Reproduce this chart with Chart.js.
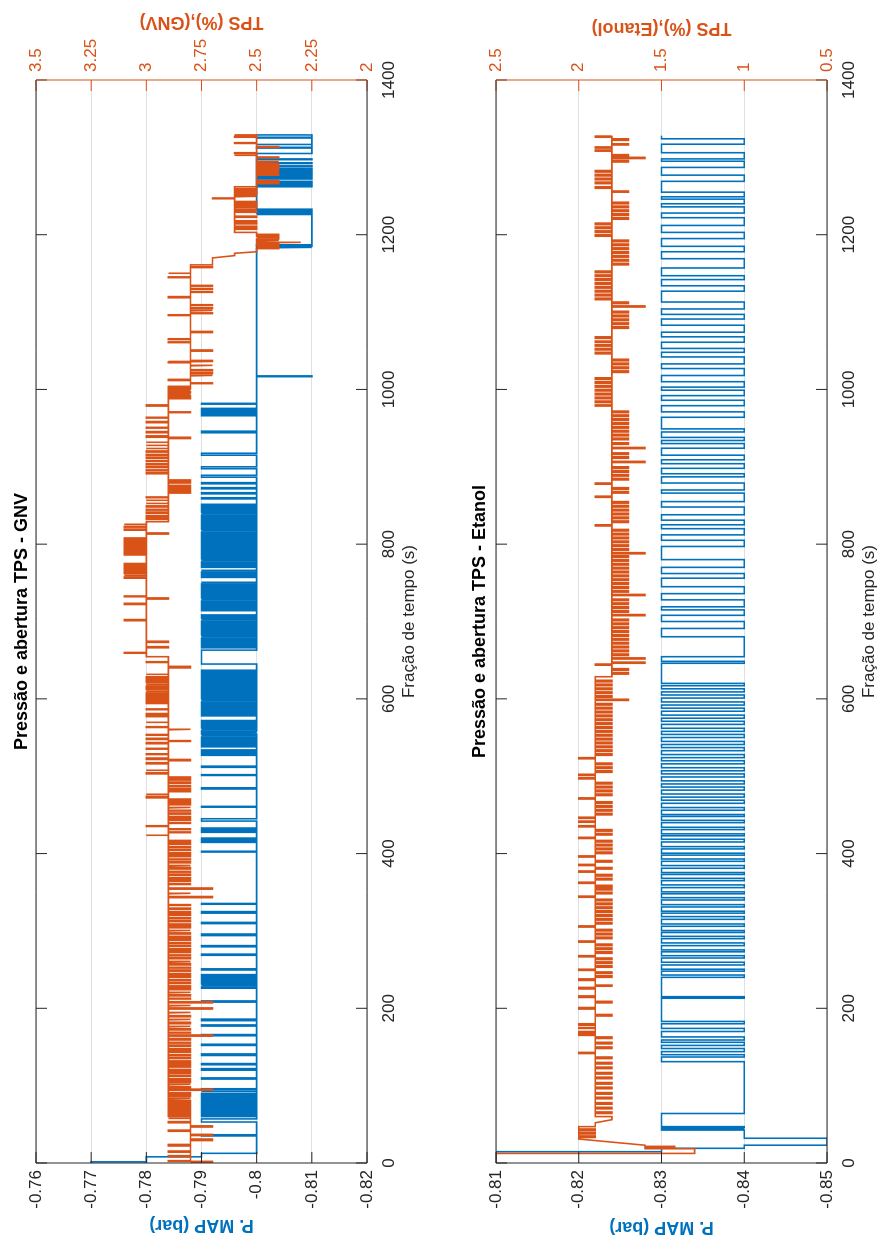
<!DOCTYPE html>
<html>
<head>
<meta charset="utf-8">
<title>Pressão e abertura TPS</title>
<script src="https://cdn.jsdelivr.net/npm/chart.js@4.4.1/dist/chart.umd.min.js"></script>
<style>
  html, body { margin: 0; padding: 0; background: #fff; overflow: hidden; }
  /* The figure is laid out landscape (1239 x 884) and turned a quarter turn anticlockwise */
  #fig {
    position: absolute; left: 0; top: 0;
    width: 1239px; height: 884px;
    transform-origin: 0 0;
    transform: translate(0, 1239px) rotate(-90deg);
    background: #fff;
  }
  #fig canvas { display: block; }
</style>
</head>
<body>
<div id="fig">
  <canvas id="cGnv" width="1239" height="442"></canvas>
  <canvas id="cEta" width="1239" height="442"></canvas>
</div>
<script>
// ---------- tick values ----------
const timeTicks   = [0, 200, 400, 600, 800, 1000, 1200, 1400];
const gnvMapTicks = [-0.82, -0.81, -0.80, -0.79, -0.78, -0.77, -0.76];
const gnvTpsTicks = [2, 2.25, 2.5, 2.75, 3, 3.25, 3.5];
const etaMapTicks = [-0.85, -0.84, -0.83, -0.82, -0.81];
const etaTpsTicks = [0.5, 1, 1.5, 2, 2.5];

// ---------- GNV: P. MAP (bar) ----------
// level changes [t (s), value]
const gnvMapSteps = [[0,-0.77],[1.5,-0.78],[8,-0.79],[12.5,-0.80],
  [1183,-0.81],[1184,-0.80],[1185,-0.81],[1186,-0.80],[1187,-0.81],[1225.5,-0.80],[1226.5,-0.81],[1228,-0.80],
  [1229,-0.81],[1230.5,-0.80],[1231.5,-0.81],[1233,-0.80],
  [1262,-0.81],[1263,-0.80],[1265,-0.81],[1266,-0.80],[1268,-0.81],[1269,-0.80],[1272,-0.81],[1273,-0.80],
  [1274.5,-0.81],[1275.5,-0.80],[1277,-0.81],[1278,-0.80],[1279.5,-0.81],[1280.5,-0.80],[1282,-0.81],[1283,-0.80],
  [1284.5,-0.81],[1285.5,-0.80],[1288,-0.81],[1289,-0.80],[1292,-0.81],[1293,-0.80],[1297,-0.81],[1298,-0.80],
  [1305,-0.81],[1312,-0.80],[1313,-0.81],[1316,-0.80],[1317,-0.81],[1325,-0.80],[1326,-0.81],[1329,-0.80]];
// short rises to -0.79 bar [start, end]
const gnvMapRise = [[35,36.5],[53,57],[60,61.5],[63,64],[65.5,67],[68,69],[71,72.5],[74,75],[77,78.5],[80,81],
  [83,84.5],[86,87],[89,90],[92,93],[95,96],[108.5,110],[120,122],[127,128.5],[139,141],[152,153.5],[164.5,166],
  [177,178.5],[184,186],[208,209.5],[226,227.5],[229,230],[231.5,233],[234.5,236],[237.5,238.5],[240,241],
  [242.5,243.5],[249.5,251],[268.5,270],[279.5,281],[294,296],[309.5,311],[323,325],[334.5,335.5],[402,403],
  [414.5,416],[418,420],[427.5,429],[431,433],[442,445],[460,461],[483.5,485],[501,502],[511.5,513],[527,528.5],
  [530,531],[532.5,534],
  [538,539.5],[541,542],[543.5,545],[546.5,547.5],[549,550.5],[552,553],[554.5,556],[557,558.5],[560,561],
  [562.5,564],[565.5,566.5],[568,569.5],[571,572],
  [578,579.5],[581,582],[583.5,585],[586.5,587.5],[589,590.5],[592,593],[594.5,596],[597.5,598.5],[600,601.5],
  [603,604],[605.5,607],[608.5,609.5],[611,612.5],[614,615],[616.5,618],[619.5,620.5],[622,623.5],[625,626],
  [627.5,629],[630.5,631.5],[633,634.5],[636,637],
  [645,663],
  [666,667.5],[669,670],[671.5,673],[674.5,675.5],[677,678.5],[680,681],[682.5,684],[685.5,686.5],[688,689.5],
  [691,692],[693.5,695],[696.5,697.5],[699,700.5],[702,703],[704.5,706],[707.5,708.5],
  [714,715.5],[717,718],[719.5,721],[722.5,723.5],[725,726.5],[728,729],[730.5,732],[733.5,734.5],[736,737.5],
  [739,740],[741.5,743],[744.5,745.5],[747,748.5],[750,751],
  [757,758.5],[760,761],[762.5,764],[765.5,766.5],
  [770,771.5],[773,774],[775.5,777],[778.5,779.5],[781,782.5],[784,785],[786.5,788],[789.5,790.5],[792,793.5],
  [795,796],[797.5,799],[800.5,801.5],[803,804.5],[806,807],[808.5,810],[811.5,812.5],[814,815.5],[817,818],
  [819.5,821],[822.5,823.5],[825,826.5],[828,829],[830.5,832],[833.5,834.5],[836,837.5],[839,840],[841.5,843],
  [844.5,845.5],[847,848.5],[850,851.5],
  [858.5,860],[865,866.5],[871.5,873],[878,879.5],[886.5,889],[897.5,900],[915,917.5],[944,946],[966,967.5],
  [969,970],[971.5,973],[974,975.5],[981,982]];
// short drops to -0.81 bar
const gnvMapDrop = [[1016.5,1017.5]];

// ---------- GNV: TPS (%) ----------
// level changes [t, value, ramp?]
const gnvTpsSteps = [[0,2.8],[57,2.9],[654.5,3.0],[829,2.9],[1004,2.8],[1161,2.7],[1170,2.7],[1173,2.6,1],
  [1176,2.6],[1178,2.5,1],[1203,2.6],[1262,2.5],[1329,2.6]];
// short excursions [start, end, value]
const gnvTpsPulses = [
  [1,2,2.7],[2.2,3,2.9],[8,9.5,2.9],[14,15.5,2.9],[22,24,2.9],[29,31,2.7],[35.5,37,2.7],[41,42.5,2.9],[46.5,48,2.7],[52,53.5,2.9],
  [58,60,2.8],[62,63.5,2.8],[65,67,2.8],[69,70,2.8],[72,74,2.8],[76,77,2.8],[79,81,2.8],[83,84,2.8],[86,88,2.8],[90,91,2.8],
  [94,95.5,2.7],[97,98.5,2.8],[101,102,2.8],[104,106,2.8],[108,109,2.8],[112,113.5,2.8],[116,117,2.8],[119,121,2.8],
  [124,125,2.8],[127,129,2.8],[131,132,2.8],[135,136.5,2.8],[139,140,2.8],[143,145,2.8],[147,148,2.8],[151,152.5,2.8],
  [155,156,2.8],[159,161,2.8],[164,165.5,2.7],[168,169,2.8],[172,173.5,2.8],[176,177,2.8],[180,182,2.8],[185,186,2.8],
  [189,190.5,2.8],[194,195,2.8],[199,200.5,2.7],[203,204,2.8],[207,208.5,2.7],[212,213,2.8],[216,217.5,2.8],[220,221,2.8],
  [224,226,2.8],[228,229,2.8],[232,233.5,2.8],[236,237,2.8],[240,242,2.8],[244,245,2.8],[248,249.5,2.8],[252,253,2.8],
  [256,258,2.8],[260,261,2.8],[264,265.5,2.8],[268,269,2.8],[272,274,2.8],[276,277,2.8],[280,281.5,2.8],[284,285,2.8],
  [288,290,2.8],[292,293,2.8],[296,297.5,2.8],[300,301,2.8],[304,306,2.8],[308,309,2.8],[312,313.5,2.8],[316,317,2.8],
  [320,322,2.8],[324,325,2.8],[328,329.5,2.8],[333,334,2.8],[343,344.5,2.7],[348,349,2.8],[354,355.5,2.7],[360,361,2.8],
  [364,366,2.8],[368,369,2.8],[372,373.5,2.8],[376,377,2.8],[380,382,2.8],[384,385,2.8],[388,389.5,2.8],[392,393,2.8],
  [396,398,2.8],[400,401,2.8],[404,405.5,2.8],[408,409,2.8],[412,414,2.8],[416,417,2.8],[423,424,3.0],[427,428,2.8],
  [431,432,2.8],[435,436,3.0],[439,440,2.8],[443,445,2.8],[447,448,2.8],[451,452.5,2.8],[455,456,2.8],[459,460,2.8],
  [463,464.5,2.8],[466,467,2.8],[469,470.5,2.8],[472,474,3.0],[476,477,3.0],[480,481,2.8],[483,484.5,2.8],[487,488,2.8],
  [491,492.5,2.8],[495,496,2.8],[498,499,2.8],[503,504.5,3.0],[507,508,3.0],[516,517.5,3.0],[520,521,2.8],[522,523.5,3.0],
  [528,529,3.0],[535,536,3.0],[542,543.5,3.0],[545,546,2.8],[547.5,549,3.0],[553,554,3.0],[560,561,2.8],[563,564,3.0],
  [569,570,3.0],[577,578.5,3.0],[580,581,3.0],[586,587,3.0],[594,595.5,3.0],[597,598,3.0],[600,601.5,3.0],[603,604,3.0],
  [606,607.5,3.0],[609,610,3.0],[612,613,3.0],[615,616.5,3.0],[618,619,3.0],[621,622.5,3.0],[624,625,3.0],[627,628.5,3.0],
  [631,632,3.0],[640,642,2.8],[647,648,3.0],
  [659,660,3.1],[666,667.5,2.9],[673,674.5,2.9],[701,702.5,3.1],[722,723.5,3.1],[729,730.5,2.9],[732,733,3.1],
  [756,757.5,3.1],[759,760,3.1],[762,763.5,3.1],[765,766,3.1],[768,769.5,3.1],[771,772,3.1],[774,775,3.1],
  [786,787.5,3.1],[789,790,3.1],[792,793.5,3.1],[795,796,3.1],[798,799.5,3.1],[801,802,3.1],[804,805.5,3.1],
  [807,808,3.1],[813,814.5,2.9],[818,819.5,3.1],[822,823,3.1],[825,826,3.1],
  [832,834,3.0],[836,837,3.0],[840,841.5,3.0],[844,845,3.0],[848,849.5,3.0],[852,853,3.0],[856,857,3.0],[860,861,3.0],
  [866,867.5,2.8],[869,870,2.8],[872,873.5,2.8],[875,876,2.8],[879,880,2.8],[882,883,2.8],[891,892.5,3.0],[895,896,3.0],
  [899,900.5,3.0],[903,904,3.0],[907,908,3.0],[911,912.5,3.0],[915,916,3.0],[919,920.5,3.0],[923,924,3.0],[927,928,3.0],
  [931,932,3.0],[936.5,937.5,2.8],[938.5,940,3.0],[944,945.5,3.0],[950,951,3.0],[957,958.5,3.0],[963,964,3.0],
  [970,971,2.8],[978.5,980,3.0],[988,989,2.8],[990.5,992,2.8],[993,994,2.8],[995.5,997,2.8],[998,999,2.8],[1000.5,1002,2.8],
  [1007.5,1008.5,2.7],[1011.5,1013,2.9],[1017.5,1018.5,2.7],[1020.5,1021.5,2.7],[1024,1025.5,2.7],[1030.5,1031.5,2.7],
  [1034.5,1035.5,2.9],[1036.5,1037.5,2.7],[1049.5,1051,2.7],[1060.5,1061.5,2.9],[1064.5,1065.5,2.9],[1073.5,1075,2.7],
  [1095.5,1096.5,2.9],[1098,1099,2.7],[1101.5,1102.5,2.7],[1104.5,1105.5,2.7],[1108.5,1109.5,2.7],[1118.5,1120,2.9],
  [1125.5,1126.5,2.7],[1129.5,1130.5,2.7],[1133.5,1134.5,2.7],[1144.5,1145.5,2.9],[1149.5,1150.5,2.9],[1157.5,1158.5,2.7],
  [1182,1183,2.4],[1184,1185.5,2.4],[1187,1188,2.4],[1189.5,1190.5,2.3],[1192,1193,2.4],[1194.5,1196,2.4],[1197,1198,2.4],
  [1199.5,1200.5,2.4],
  [1207,1208,2.5],[1209.5,1211,2.5],[1214,1215.5,2.5],[1217,1218,2.5],[1222.5,1224,2.5],[1229,1230.5,2.5],[1232,1233,2.5],
  [1235,1236.5,2.5],[1238,1239,2.5],[1241,1243,2.5],[1246.5,1247.5,2.7],[1249,1250,2.5],[1251.5,1253,2.5],[1255,1256,2.5],
  [1258,1259.5,2.5],
  [1266,1267,2.4],[1269,1270,2.4],[1277,1278.5,2.4],[1280,1281,2.4],[1282.5,1284,2.4],[1285.5,1286.5,2.4],[1288,1289.5,2.4],
  [1291,1292,2.4],[1294,1295,2.4],[1299.5,1300.5,2.4],[1302,1303,2.6],[1305,1306,2.6],[1313,1314,2.4],[1318,1319,2.6],
  [1326,1327,2.6]];

// ---------- Etanol: P. MAP (bar) ----------
const etaMapSteps = [[0,-0.81],[14.6,-0.83],[19,-0.84],[23,-0.85],[32,-0.84],[42.6,-0.83],[44,-0.84],[45,-0.83],
  [46,-0.84],[47,-0.83],[64,-0.84],[131,-0.83],[1328,-0.83]];
// drops to -0.84 bar [start, end]
const etaMapDrop = [[137,140],[144,148],[152,156],[159,163],[170,174],[180,183],[213,215],
  [240,243],[248,250.5],[256,259.5],[265,268],[273,275.5],[281,284.5],[290,293],[298,300.5],[306,309],[315,318.5],
  [323,325.5],[331,334],[340,343],[348,350.5],[356,359.5],[365,368],[373,375.5],[381,384.5],[390,393],[398,400.5],
  [406,409],[415,418.5],[423,425.5],[431,434],[440,443],[448,450.5],[456,459.5],
  [465,469],[473,477],[482,486],[490,494],[499,503],[507,511],[516,520],[524,528],[533,537],[541,545],[550,554],
  [558,562],[567,571],[575,579],[584,588],[592,596],[601,605],[609,613],[617,620],
  [646,648.5],[654.5,680.3],[691,700],[708,715],[719,728],[736,745],[756,762],[770,780],[797,805],[812,820],[825,831],
  [838,848],[855,866],[870,879],[887,891],[898,904],[909,915],[924,930],
  [934,938],[945,949],[964,971],[979,986],[992,999],[1003,1010],[1018,1027],[1033,1042],[1048,1053],[1061,1068],
  [1074,1083],[1091,1097],[1104,1113],[1127,1134],[1142,1147],[1157,1169],[1178,1185],[1195,1203],[1212,1222],
  [1228,1236],[1240,1246],[1249,1255],[1269,1277],[1287,1295],[1298,1306],[1317,1324]];

// ---------- Etanol: TPS (%) ----------
const etaTpsSteps = [[0,2.5],[12.4,1.3],[18.5,1.6],[20,1.42],[21.5,1.6],[23,1.6],[31,2.0,1],[33,1.9],[35,2.0],
  [37.5,1.9],[39.5,2.0],[42,1.9],[44,2.0],[47,1.9],[52,1.9],[56,1.8,1],[60,1.9],[628.6,1.8],[1328,1.8]];
const etaTpsPulses = [
  [64,66,1.8],[70,72,1.8],[76,78,1.8],[83,85,1.8],[89,91,1.8],[96,98,1.8],[102,104,1.8],[109,111,1.8],[115,117,1.8],
  [122,124,1.8],[128,130,1.8],[135,137,1.8],[141.5,143,2.0],[148,150,1.8],[154,156,1.8],[161,163,1.8],[165,166.5,2.0],
  [168,170,2.0],[174,175,2.0],[178,180,2.0],[190,192,1.8],[199,201,2.0],[207,209,1.8],[214,216,2.0],[225,227,2.0],
  [228.5,230,1.8],[236,238,2.0],
  [240,242,1.8],[245,247,1.8],[249,250.5,2.0],[253,255,1.8],[258,260,1.8],[263,265,1.8],[266.5,268,2.0],[271,273,1.8],
  [276,278,1.8],[281,283,1.8],[285.5,287,2.0],[290,292,1.8],[295,297,1.8],[300,302,1.8],[305,306.5,2.0],[309,311,1.8],
  [314,316,1.8],[319,321,1.8],[324,326,1.8],[329,331,1.8],[334,336,1.8],[339,341,1.8],[343.5,345,2.0],[348,350,1.8],
  [353,355,1.8],[357,359,1.8],[361.5,363,2.0],[366,368,1.8],[371,373,1.8],[376,377.5,2.0],[380,382,1.8],[384.5,386,2.0],
  [389,391,1.8],[395.5,397,2.0],[400,402,1.8],[405,407,1.8],[410,412,1.8],[415,417,1.8],[419.5,421,2.0],[424,426,1.8],
  [429,431,1.8],[434.5,436,2.0],[440.5,442,2.0],[445.5,447,2.0],[450,452,1.8],[455,457,1.8],[460,462,1.8],
  [465,467,1.8],[470.5,472,2.0],[475,477,1.8],[480,482,1.8],[485,487,1.8],[490,492,1.8],[496.5,498,2.0],[501,502.5,2.0],
  [505,507,1.8],[510,512,1.8],[515,517,1.8],[522.5,524,2.0],[527,529,1.8],[532,534,1.8],[537,539,1.8],[542,544,1.8],
  [547,549,1.8],[552,554,1.8],[557,559,1.8],[562,564,1.8],[567,569,1.8],[572,574,1.8],[577,579,1.8],[582,584,1.8],
  [587,589,1.8],[592,594,1.8],[598,599.5,1.7],[602,604,1.8],[607,609,1.8],[612,614,1.8],[617,619,1.8],[622,624,1.8],
  [632,634,1.7],[637,639,1.7],[643.5,645,1.9],[646,647.5,1.6],[651.5,653,1.6],[656,658,1.7],[661,663,1.7],[666,668,1.7],
  [671,673,1.7],[676,678,1.7],[681,683,1.7],[686,688,1.7],[691,693,1.7],[696,698,1.7],[701,703,1.7],[707.5,709,1.6],
  [712,714,1.7],[717,719,1.7],[722,724,1.7],[727,729,1.7],[733.5,735,1.6],[738,740,1.7],[743,745,1.7],[748,750,1.7],
  [753,755,1.7],[758,760,1.7],[763,765,1.7],[768,770,1.7],[773,775,1.7],[778,780,1.7],[783,785,1.7],[787.5,789,1.6],
  [792,794,1.7],[797,799,1.7],[802,804,1.7],[807,809,1.7],[812,814,1.7],[817,819,1.7],[823.5,825,1.9],[828,830,1.7],
  [833,835,1.7],[838,840,1.7],[843,845,1.7],[848,850,1.7],[853,855,1.7],[860.5,862,1.9],[866,868,1.7],[871,873,1.7],
  [877.5,879,1.9],[883,885,1.7],[888,890,1.7],[893,895,1.7],[898,900,1.7],[905.5,907,1.6],[911,913,1.7],[916,918,1.7],
  [923.5,925,1.6],[929,931,1.7],
  [935,937,1.7],[940,942,1.7],[945,947,1.7],[950,952,1.7],[955,957,1.7],[960,962,1.7],[965,967,1.7],[970,972,1.7],
  [978.5,980,1.9],[983,985,1.9],[988,990,1.9],[993,995,1.9],[998,1000,1.9],[1003,1005,1.9],[1008,1010,1.9],[1013,1015,1.9],
  [1022,1024,1.7],[1027,1029,1.7],[1032,1034,1.7],[1037,1039,1.7],[1046,1048,1.9],[1051,1053,1.9],[1056,1058,1.9],
  [1061,1062.5,1.9],[1066,1068,1.9],[1079,1081,1.7],[1084,1086,1.7],[1089,1091,1.7],[1094,1096,1.7],[1099,1101,1.7],
  [1106.5,1108,1.6],[1111,1113,1.7],[1116,1118,1.9],[1121,1123,1.9],[1126,1128,1.9],[1131,1133,1.9],[1136,1138,1.9],
  [1141,1143,1.9],[1146,1148,1.9],[1151,1153,1.9],[1161,1163,1.7],[1166,1168,1.7],[1171,1173,1.7],[1176,1178,1.7],
  [1181,1183,1.7],[1186,1188,1.7],[1191,1193,1.7],[1198,1200,1.9],[1203,1205,1.9],[1208,1210,1.9],[1213,1215,1.9],
  [1220,1222,1.7],[1225,1227,1.7],[1230,1232,1.7],[1235,1237,1.7],[1240,1242,1.7],[1255,1256.5,1.7],[1260,1262,1.9],
  [1266,1268,1.9],[1271,1273,1.9],[1276,1278,1.9],[1281,1283,1.9],[1294,1296,1.7],[1298.5,1300,1.6],[1302,1303.5,1.7],
  [1308,1309.5,1.9],[1312,1313.5,1.9],[1316,1317.5,1.7],[1322,1324,1.7],[1326,1327.5,1.9]];

// ---------- styling ----------
const BLUE = '#0072BD';
const ORANGE = '#D95319';
const INK = '#262626';
const FONT = '"Liberation Sans", Arial, Helvetica, sans-serif';
Chart.defaults.font.family = FONT;

// value in force at time t
function levelAt(steps, t) {
  let v = steps[0][1];
  for (const s of steps) { if (s[0] <= t) v = s[1]; else break; }
  return v;
}

// turns level changes plus short excursions into a polyline (vertical jumps, optional ramps)
function trace(steps, pulses) {
  const ev = steps.map(s => ({ t: s[0], v: s[1], ramp: !!s[2] }));
  for (const [s, e, v] of pulses) {
    ev.push({ t: s, v: v, ramp: false });
    ev.push({ t: e, v: levelAt(steps, e), ramp: false });
  }
  ev.sort((a, b) => a.t - b.t);
  const pts = [];
  let prev = null;
  for (const e of ev) {
    if (prev !== null && !e.ramp) pts.push({ x: e.t, y: prev });
    pts.push({ x: e.t, y: e.v });
    prev = e.v;
  }
  return pts;
}

const withLevel = (list, v) => list.map(([s, e]) => [s, e, v]);

const fmt = v => String(Math.round(v * 100) / 100);

// box, inward tick marks and all axis/figure captions
const framePlugin = {
  id: 'frame',
  afterDatasetsDraw(chart, _args, o) {
    const { ctx, chartArea: a } = chart;
    const sx = chart.scales.x, sm = chart.scales.yMap, st = chart.scales.yTps;
    const L = 11;
    ctx.save();
    ctx.lineWidth = 1;
    const seg = (x1, y1, x2, y2, c) => {
      ctx.strokeStyle = c; ctx.beginPath(); ctx.moveTo(x1, y1); ctx.lineTo(x2, y2); ctx.stroke();
    };
    for (const t of timeTicks) {
      const x = sx.getPixelForValue(t);
      seg(x, a.bottom, x, a.bottom - L, INK);
      seg(x, a.top, x, a.top + L, INK);
    }
    for (const v of o.mapTicks) { const y = sm.getPixelForValue(v); seg(a.left, y, a.left + L, y, INK); }
    for (const v of o.tpsTicks) { const y = st.getPixelForValue(v); seg(a.right, y, a.right - L, y, ORANGE); }
    seg(a.left, a.top, a.right, a.top, INK);
    seg(a.left, a.bottom, a.right, a.bottom, INK);
    seg(a.left, a.top, a.left, a.bottom, INK);
    seg(a.right, a.top, a.right, a.bottom, ORANGE);

    const cx = (a.left + a.right) / 2, cy = (a.top + a.bottom) / 2;
    ctx.textAlign = 'center';
    ctx.textBaseline = 'middle';
    ctx.fillStyle = '#000';
    ctx.font = 'bold 18px ' + FONT;
    ctx.fillText(o.title, cx, o.titleY);
    ctx.fillStyle = INK;
    ctx.font = '17px ' + FONT;
    ctx.fillText(o.xTitle, cx, o.xTitleY);

    const vText = (txt, x, color) => {
      ctx.save();
      ctx.translate(x, cy);
      ctx.rotate(-Math.PI / 2);
      ctx.fillStyle = color;
      ctx.font = 'bold 18px ' + FONT;
      ctx.fillText(txt, 0, 0);
      ctx.restore();
    };
    vText(o.mapTitle, o.mapTitleX, BLUE);
    vText(o.tpsTitle, o.tpsTitleX, ORANGE);
    ctx.restore();
  }
};

function panel(id, p) {
  const line = (data, color, axis) => ({
    data, yAxisID: axis, borderColor: color, borderWidth: 1.6,
    pointRadius: 0, tension: 0, fill: false, borderJoinStyle: 'miter'
  });
  return new Chart(document.getElementById(id), {
    type: 'line',
    data: { datasets: [line(p.tps, ORANGE, 'yTps'), line(p.map, BLUE, 'yMap')] },
    options: {
      responsive: false, animation: false, events: [],
      layout: { padding: { top: p.top, left: 0, right: 0, bottom: 0 } },
      plugins: {
        legend: { display: false }, tooltip: { enabled: false },
        frame: {
          title: p.title, titleY: p.titleY, xTitle: 'Fração de tempo (s)', xTitleY: p.xTitleY,
          mapTitle: 'P. MAP (bar)', mapTitleX: p.mapTitleX, tpsTitle: p.tpsTitle, tpsTitleX: p.tpsTitleX,
          mapTicks: p.mapTicks, tpsTicks: p.tpsTicks
        }
      },
      scales: {
        x: {
          type: 'linear', min: 0, max: 1400,
          afterBuildTicks: s => { s.ticks = timeTicks.map(v => ({ value: v })); },
          afterFit: s => { s.height = p.xHeight; },
          grid: { display: false, drawTicks: false }, border: { display: false },
          ticks: { color: INK, padding: 12, font: { size: 17 }, maxRotation: 0, autoSkip: false, callback: v => String(v) }
        },
        yMap: {
          type: 'linear', position: 'left', min: p.mapTicks[0], max: p.mapTicks[p.mapTicks.length - 1],
          afterBuildTicks: s => { s.ticks = p.mapTicks.map(v => ({ value: v })); },
          afterFit: s => { s.width = 76; },
          grid: { color: 'rgba(38,38,38,0.15)', lineWidth: 1, drawTicks: false }, border: { display: false },
          ticks: { color: INK, padding: 7, font: { size: 17 }, autoSkip: false, callback: fmt }
        },
        yTps: {
          type: 'linear', position: 'right', min: p.tpsTicks[0], max: p.tpsTicks[p.tpsTicks.length - 1],
          afterBuildTicks: s => { s.ticks = p.tpsTicks.map(v => ({ value: v })); },
          afterFit: s => { s.width = 80; },
          grid: { display: false, drawTicks: false }, border: { display: false },
          ticks: { color: ORANGE, padding: 8, font: { size: 17 }, autoSkip: false, callback: fmt }
        }
      }
    },
    plugins: [framePlugin]
  });
}

panel('cGnv', {
  map: trace(gnvMapSteps, withLevel(gnvMapRise, -0.79).concat(withLevel(gnvMapDrop, -0.81))),
  tps: trace(gnvTpsSteps, gnvTpsPulses),
  mapTicks: gnvMapTicks, tpsTicks: gnvTpsTicks,
  title: 'Pressão e abertura TPS - GNV', tpsTitle: 'TPS (%),(GNV)',
  top: 36, xHeight: 75, titleY: 22, xTitleY: 409, mapTitleX: 14, tpsTitleX: 1217
});

panel('cEta', {
  map: trace(etaMapSteps, withLevel(etaMapDrop, -0.84)),
  tps: trace(etaTpsSteps, etaTpsPulses),
  mapTicks: etaMapTicks, tpsTicks: etaTpsTicks,
  title: 'Pressão e abertura TPS - Etanol', tpsTitle: 'TPS (%),(Etanol)',
  top: 54, xHeight: 57, titleY: 38, xTitleY: 427, mapTitleX: 12, tpsTitleX: 1211
});
</script>
</body>
</html>
